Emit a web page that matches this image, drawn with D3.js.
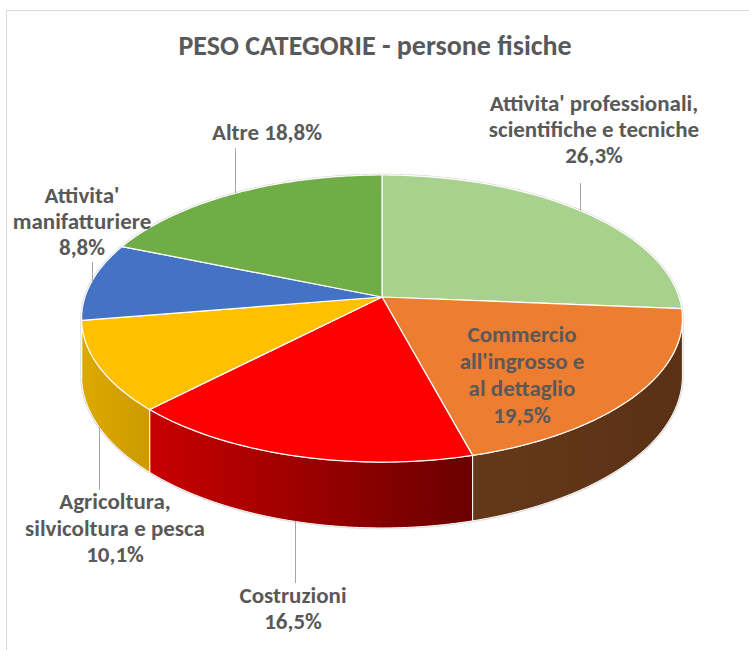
<!DOCTYPE html>
<html>
<head>
<meta charset="utf-8">
<script src="https://cdn.jsdelivr.net/npm/d3@7"></script>
<style>
  body { margin: 0; background: #fff; }
  text { font-family: Carlito, "Liberation Sans Narrow", "Noto Sans", sans-serif; font-weight: bold; fill: #595959; }
</style>
</head>
<body>
<div id="chart"></div>
<script>
// data
var categories = [
  "Attivita' professionali, scientifiche e tecniche",
  "Commercio all'ingrosso e al dettaglio",
  "Costruzioni",
  "Agricoltura, silvicoltura e pesca",
  "Attivita' manifatturiere",
  "Altre"
];
var values = [26.3, 19.5, 16.5, 10.1, 8.8, 18.8];
var labelLines = [
  ["Attivita' professionali,", "scientifiche e tecniche", "26,3%"],
  ["Commercio", "all'ingrosso e", "al dettaglio", "19,5%"],
  ["Costruzioni", "16,5%"],
  ["Agricoltura,", "silvicoltura e pesca", "10,1%"],
  ["Attivita'", "manifatturiere", "8,8%"],
  ["Altre 18,8%"]
];
var topColors = ["#A9D18E", "#ED7D31", "#FF0000", "#FFC000", "#4472C4", "#70AD47"];
var sideColors = [
  ["#7E9C69", "#6F8A5C"],
  ["#66381A", "#5A3115"],
  ["#C80000", "#6A0000"],
  ["#DDA900", "#CC9A00"],
  ["#33568F", "#2B4A7C"],
  ["#55833A", "#4A7232"]
];

// layout
var width = 749, height = 650;
var cx = 382, cy = 297;     // projected centre of the top face
var A = 297, B = 140.3;     // half axes before perspective
var persp = 0.15;           // perspective strength
var depth = 56;             // thickness of the pie
// label placement: centre x, first baseline, line height, where the leader goes
var labelPos = [
  {x: 594, y: 111, dy: 26, leader: "top", gap: 183},
  {x: 522, y: 342, dy: 27, leader: null},
  {x: 293, y: 603, dy: 26, leader: "bottom", gap: 583},
  {x: 115, y: 509, dy: 26.5, leader: "bottom", gap: 490},
  {x: 82, y: 203, dy: 26, leader: "top", gap: 262},
  {x: 267, y: 140, dy: 26, leader: "top", gap: 148}
];

var svg = d3.select("#chart").append("svg")
  .attr("width", width)
  .attr("height", height);

// chart area border (only top and left edges are visible)
svg.append("path")
  .attr("d", "M6.5," + height + "V10.5H" + width)
  .attr("fill", "none")
  .attr("stroke", "#D9D9D9")
  .attr("stroke-width", 1);

svg.append("text")
  .attr("x", 375)
  .attr("y", 55)
  .attr("text-anchor", "middle")
  .style("font-size", "28px")
  .text("PESO CATEGORIE - persone fisiche");

// projection of an angle on the rim (z = 0 top face, z = 1 bottom face)
function proj(theta, z) {
  var u = Math.sin(theta), v = -Math.cos(theta);
  var w = 1 - persp * v;
  return [cx + A * u / w, cy + B * v / w + z * depth / w];
}

function arcPoints(a0, a1, z) {
  var n = Math.max(2, Math.ceil((a1 - a0) / (Math.PI / 180)));
  return d3.range(n + 1).map(function (i) {
    return proj(a0 + (a1 - a0) * i / n, z);
  });
}

var pie = d3.pie().sort(null).value(function (d) { return d; });
var arcs = pie(values);

var line = d3.line();
var defs = svg.append("defs");

// visible part of the cylinder wall
var thR = Math.acos(-persp), thL = 2 * Math.PI - Math.acos(-persp);

// silhouette shadow
var silTop = arcPoints(thL - 2 * Math.PI, thR, 0);
var silBot = arcPoints(thR, thL, 1);
svg.append("path")
  .attr("d", line(silTop.concat(silBot)) + "Z")
  .attr("fill", "none")
  .attr("stroke", "#C8C8C8")
  .attr("stroke-width", 2.5)
  .attr("opacity", 0.7);

var sides = svg.append("g");
arcs.forEach(function (d, i) {
  var a0 = Math.max(d.startAngle, thR), a1 = Math.min(d.endAngle, thL);
  if (a1 <= a0) return;
  var topPts = arcPoints(a0, a1, 0);
  var botPts = arcPoints(a0, a1, 1).reverse();
  var xs = d3.extent(topPts.concat(botPts), function (p) { return p[0]; });
  var g = defs.append("linearGradient")
    .attr("id", "side" + i)
    .attr("gradientUnits", "userSpaceOnUse")
    .attr("x1", xs[0]).attr("x2", xs[1])
    .attr("y1", 0).attr("y2", 0);
  g.append("stop").attr("offset", 0).attr("stop-color", sideColors[i][0]);
  g.append("stop").attr("offset", 1).attr("stop-color", sideColors[i][1]);
  sides.append("path")
    .attr("d", line(topPts.concat(botPts)) + "Z")
    .attr("fill", "url(#side" + i + ")")
    .attr("stroke", "#fff")
    .attr("stroke-width", 1)
    .attr("stroke-linejoin", "round");
});

var tops = svg.append("g");
arcs.forEach(function (d, i) {
  var pts = [[cx, cy]].concat(arcPoints(d.startAngle, d.endAngle, 0));
  tops.append("path")
    .attr("d", line(pts) + "Z")
    .attr("fill", topColors[i])
    .attr("stroke", "#fff")
    .attr("stroke-width", 1.2)
    .attr("stroke-linejoin", "round");
});

// labels and leader lines
var labels = svg.append("g");
arcs.forEach(function (d, i) {
  var pos = labelPos[i];
  var t = labels.append("text")
    .attr("text-anchor", "middle")
    .style("font-size", "23px");
  labelLines[i].forEach(function (s, k) {
    t.append("tspan")
      .attr("x", pos.x)
      .attr("y", pos.y + k * pos.dy)
      .text(s);
  });
  if (pos.leader) {
    var mid = (d.startAngle + d.endAngle) / 2;
    var p = proj(mid, pos.leader === "top" ? 0 : 1);
    labels.append("line")
      .attr("x1", Math.round(p[0]) + 0.5).attr("x2", Math.round(p[0]) + 0.5)
      .attr("y1", p[1]).attr("y2", pos.gap)
      .attr("stroke", "#A6A6A6")
      .attr("stroke-width", 1);
  }
});
</script>
</body>
</html>
